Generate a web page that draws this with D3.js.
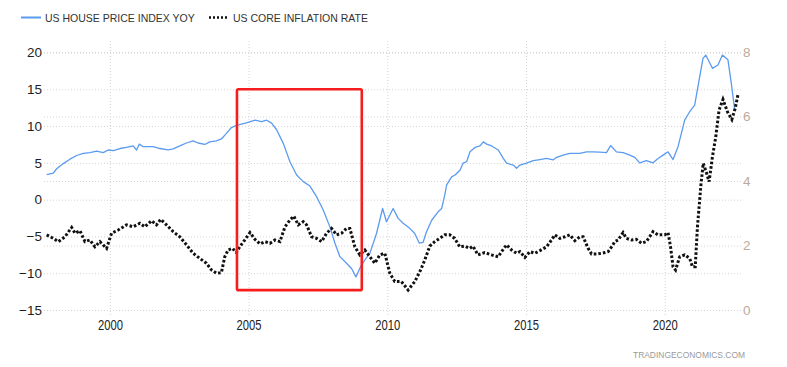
<!DOCTYPE html>
<html>
<head>
<meta charset="utf-8">
<script src="https://cdn.jsdelivr.net/npm/d3@7"></script>
<style>
  html, body { margin: 0; padding: 0; background: #fff; }
  svg { display: block; }
</style>
</head>
<body>
<svg id="chart" width="787" height="367"></svg>
<script>
// ---------------- DATA ----------------
const seriesNames = ["US HOUSE PRICE INDEX YOY", "US CORE INFLATION RATE"];
const xTicks = [2000, 2005, 2010, 2015, 2020];
const leftTicks = [20, 15, 10, 5, 0, -5, -10, -15];
const rightTicks = [8, 6, 4, 2, 0];
const watermark = "TRADINGECONOMICS.COM";

// US house price index YoY (%), left axis; time as decimal year
const hpiTime = [1997.72,1997.96,1998.08,1998.32,1998.56,1998.80,1999.04,1999.28,1999.52,1999.76,1999.94,2000.12,2000.36,2000.60,2000.84,2000.96,2001.06,2001.20,2001.56,2001.80,2002.10,2002.28,2002.52,2002.76,2003.00,2003.18,2003.42,2003.60,2003.84,2004.02,2004.20,2004.38,2004.56,2004.92,2005.23,2005.47,2005.65,2005.83,2006.01,2006.25,2006.49,2006.73,2006.97,2007.21,2007.45,2007.69,2007.93,2008.11,2008.29,2008.53,2008.71,2008.87,2009.04,2009.19,2009.37,2009.61,2009.83,2009.97,2010.21,2010.39,2010.57,2010.81,2010.99,2011.15,2011.29,2011.41,2011.60,2011.83,2011.96,2012.07,2012.14,2012.32,2012.44,2012.62,2012.74,2012.86,2012.98,2013.16,2013.34,2013.46,2013.58,2013.76,2014.00,2014.18,2014.30,2014.54,2014.66,2014.78,2015.02,2015.26,2015.50,2015.74,2015.98,2016.10,2016.34,2016.58,2016.94,2017.18,2017.42,2017.66,2017.90,2018.05,2018.26,2018.50,2018.74,2018.92,2019.10,2019.34,2019.58,2019.76,2019.94,2020.12,2020.30,2020.48,2020.72,2020.90,2021.08,2021.26,2021.38,2021.48,2021.72,2021.92,2022.08,2022.28,2022.40,2022.52];
const hpiValue = [3.4,3.6,4.2,4.9,5.5,6.0,6.3,6.4,6.6,6.4,6.75,6.65,6.95,7.1,7.3,6.75,7.55,7.2,7.2,6.95,6.75,6.9,7.3,7.7,8.0,7.7,7.5,7.85,8.0,8.25,9.0,9.8,10.1,10.45,10.8,10.6,10.8,10.4,9.5,7.65,5.15,3.35,2.45,1.85,0.4,-1.4,-3.7,-5.9,-7.75,-8.65,-9.35,-10.5,-9.1,-8.2,-7.3,-4.6,-1.2,-3.0,-1.2,-2.55,-3.2,-3.9,-4.6,-5.9,-5.8,-4.4,-2.8,-1.65,-1.2,0.6,2.0,3.1,3.35,4.0,5.0,5.15,6.5,7.1,7.3,7.85,7.55,7.3,6.75,5.6,4.95,4.7,4.25,4.7,4.95,5.3,5.45,5.6,5.4,5.75,6.05,6.3,6.3,6.5,6.5,6.45,6.4,7.35,6.5,6.4,6.05,5.75,5.0,5.3,5.0,5.6,6.05,6.5,5.45,7.2,10.8,11.95,12.85,16.7,19.2,19.65,17.85,18.3,19.65,19.0,15.8,12.3];

// US core inflation rate (%), right axis
const coreTime = [1997.72,1997.96,1998.14,1998.38,1998.62,1998.74,1998.92,1999.10,1999.28,1999.46,1999.64,1999.88,2000.06,2000.30,2000.60,2000.84,2001.08,2001.26,2001.50,2001.68,2001.83,2002.04,2002.28,2002.52,2002.76,2003.00,2003.24,2003.48,2003.66,2003.84,2004.02,2004.14,2004.26,2004.42,2004.56,2004.68,2004.86,2005.05,2005.23,2005.41,2005.59,2005.77,2005.95,2006.13,2006.31,2006.49,2006.63,2006.79,2006.97,2007.09,2007.27,2007.45,2007.63,2007.81,2007.99,2008.17,2008.35,2008.53,2008.65,2008.83,2009.01,2009.19,2009.37,2009.55,2009.73,2009.91,2010.09,2010.27,2010.51,2010.75,2010.99,2011.20,2011.35,2011.53,2011.71,2011.89,2012.07,2012.25,2012.43,2012.61,2012.79,2012.97,2013.09,2013.27,2013.51,2013.76,2014.00,2014.12,2014.30,2014.48,2014.66,2014.78,2014.96,2015.14,2015.32,2015.50,2015.74,2015.92,2016.04,2016.22,2016.40,2016.58,2016.76,2016.94,2017.06,2017.24,2017.36,2017.60,2017.84,2017.96,2018.12,2018.20,2018.32,2018.50,2018.62,2018.80,2018.98,2019.16,2019.34,2019.58,2019.76,2020.00,2020.12,2020.21,2020.30,2020.39,2020.54,2020.72,2020.90,2021.00,2021.10,2021.18,2021.31,2021.39,2021.51,2021.60,2021.72,2021.84,2021.96,2022.10,2022.26,2022.42,2022.54,2022.64];
const coreValue = [2.33,2.22,2.12,2.27,2.56,2.38,2.46,2.12,2.17,1.96,2.12,1.91,2.38,2.48,2.64,2.58,2.69,2.58,2.77,2.64,2.81,2.64,2.43,2.27,2.02,1.76,1.60,1.45,1.24,1.14,1.16,1.65,1.86,1.91,1.78,1.96,2.17,2.40,2.19,2.05,2.12,2.07,2.17,2.12,2.58,2.79,2.91,2.64,2.74,2.64,2.27,2.22,2.12,2.38,2.53,2.33,2.38,2.53,2.53,1.96,1.71,1.86,1.65,1.45,1.71,1.76,1.14,0.88,0.88,0.62,0.88,1.24,1.55,1.98,2.12,2.22,2.33,2.33,2.22,1.96,1.98,1.91,1.98,1.71,1.78,1.71,1.65,1.81,2.02,1.86,1.76,1.81,1.63,1.81,1.76,1.84,1.96,2.17,2.33,2.22,2.27,2.33,2.15,2.27,2.27,1.91,1.74,1.74,1.78,1.81,2.0,2.12,2.17,2.40,2.22,2.17,2.19,2.07,2.12,2.43,2.33,2.33,2.40,1.96,1.34,1.24,1.65,1.71,1.60,1.34,1.34,2.58,3.93,4.55,4.24,3.98,4.75,5.37,6.20,6.53,6.15,5.91,6.25,6.67];

// Highlight box annotation (time range, left-axis value range)
const boxTime = [2004.58, 2009.08];
const boxValue = [15.0, -12.3];

// ---------------- CHART ----------------
const svg = d3.select("#chart");
const plotLeft = 44, plotRight = 741;

const x = d3.scaleLinear().domain([1997.66, 2022.75]).range([45, 741]);
const yL = d3.scaleLinear().domain([-15, 20]).range([310, 52.5]);
const yR = d3.scaleLinear().domain([0, 8]).range([310, 52]);

const gridColor = "#d4d4d4";

// vertical gridlines + x labels
const xAxis = svg.append("g")
  .attr("transform", "translate(0,315)")
  .call(d3.axisBottom(x).tickValues(xTicks).tickFormat(d3.format("d")).tickSize(-275).tickPadding(5));
xAxis.select(".domain").remove();
xAxis.selectAll(".tick line").attr("stroke", gridColor).attr("stroke-dasharray", "1,2");
xAxis.selectAll(".tick text")
  .attr("fill", "#222")
  .attr("textLength", 25)
  .attr("lengthAdjust", "spacingAndGlyphs")
  .style("font-family", "'Liberation Sans Narrow', 'Arial Narrow', Arial, sans-serif")
  .style("font-size", "14px");

// left axis gridlines + labels
const yAxisL = svg.append("g")
  .attr("transform", `translate(${plotLeft},0)`)
  .call(d3.axisLeft(yL).tickValues(leftTicks).tickSize(-(plotRight - plotLeft)).tickPadding(2));
yAxisL.select(".domain").remove();
yAxisL.selectAll(".tick line").attr("stroke", gridColor).attr("stroke-dasharray", "1,2");
yAxisL.selectAll(".tick text")
  .attr("fill", "#1e1e1e")
  .style("font-family", "Arial, 'Liberation Sans', sans-serif")
  .style("font-size", "13.5px");

// right axis gridlines + labels
const yAxisR = svg.append("g")
  .attr("transform", `translate(${plotRight},0)`)
  .call(d3.axisRight(yR).tickValues(rightTicks).tickSize(-(plotRight - plotLeft)).tickPadding(2));
yAxisR.select(".domain").remove();
yAxisR.selectAll(".tick line").attr("stroke", gridColor).attr("stroke-dasharray", "1,2");
yAxisR.selectAll(".tick text")
  .attr("fill", "#bcab9b")
  .style("font-family", "Arial, 'Liberation Sans', sans-serif")
  .style("font-size", "13.5px");

// lines
const hpiData = hpiTime.map((t, i) => [t, hpiValue[i]]);
const coreData = coreTime.map((t, i) => [t, coreValue[i]]);

svg.append("path")
  .datum(hpiData)
  .attr("fill", "none")
  .attr("stroke", "#5b9bef")
  .attr("stroke-width", 1.3)
  .attr("stroke-linejoin", "round")
  .attr("d", d3.line().x(d => x(d[0])).y(d => yL(d[1])));

svg.append("path")
  .datum(coreData)
  .attr("fill", "none")
  .attr("stroke", "#111")
  .attr("stroke-width", 3)
  .attr("stroke-dasharray", "2.6,2")
  .attr("d", d3.line().x(d => x(d[0])).y(d => yR(d[1])));

// red highlight box
svg.append("rect")
  .attr("x", x(boxTime[0]))
  .attr("y", yL(boxValue[0]))
  .attr("width", x(boxTime[1]) - x(boxTime[0]))
  .attr("height", yL(boxValue[1]) - yL(boxValue[0]))
  .attr("rx", 1.5)
  .attr("fill", "none")
  .attr("stroke", "#f51d1d")
  .attr("stroke-width", 2.6);

// legend
const legend = svg.append("g").style("font-family", "Arial, 'Liberation Sans', sans-serif").style("font-size", "10.5px");
legend.append("line").attr("x1", 21).attr("x2", 41).attr("y1", 17.5).attr("y2", 17.5)
  .attr("stroke", "#5b9bef").attr("stroke-width", 2);
legend.append("text").attr("x", 45).attr("y", 21.5).attr("fill", "#333").text(seriesNames[0]);
legend.append("line").attr("x1", 209).attr("x2", 229).attr("y1", 17.5).attr("y2", 17.5)
  .attr("stroke", "#111").attr("stroke-width", 2.5).attr("stroke-dasharray", "2,2");
legend.append("text").attr("x", 233).attr("y", 21.5).attr("fill", "#333").text(seriesNames[1]);

// watermark
svg.append("text")
  .attr("x", 745).attr("y", 358)
  .attr("text-anchor", "end")
  .attr("fill", "#9a9a9a")
  .attr("textLength", 112)
  .attr("lengthAdjust", "spacingAndGlyphs")
  .style("font-family", "Arial, 'Liberation Sans', sans-serif")
  .style("font-size", "9px")
  .text(watermark);
</script>
</body>
</html>
